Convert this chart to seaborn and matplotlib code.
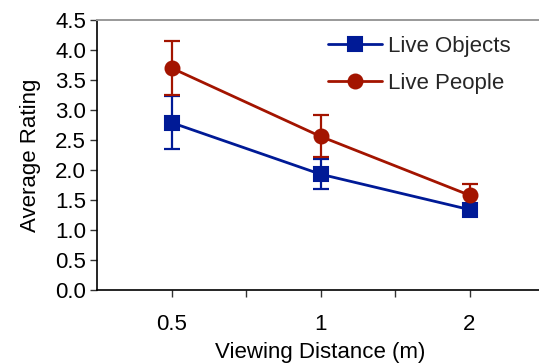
import pandas as pd
import matplotlib.pyplot as plt
import seaborn as sns

# Data
distances = ["0.5", "1", "2"]
objects_mean = [2.79, 1.93, 1.34]
objects_err = [0.44, 0.25, 0.10]
people_mean = [3.70, 2.56, 1.58]
people_err = [0.45, 0.35, 0.18]

blue = "#001a96"
red = "#a31400"

sns.set_theme(style="white")
plt.rcParams['font.family'] = ['Liberation Sans', 'DejaVu Sans']

df = pd.DataFrame({
    "distance": distances * 2,
    "rating": objects_mean + people_mean,
    "condition": ["Live Objects"] * 3 + ["Live People"] * 3,
})

fig = plt.figure(figsize=(5.39, 3.63), dpi=100)
ax = fig.add_axes([97 / 539, 73 / 363, 447 / 539, 270 / 363])

# error bars first so the markers sit on top
ax.errorbar(range(len(distances)), objects_mean, yerr=objects_err, fmt='none',
            ecolor=blue, elinewidth=1.6, capsize=6, capthick=1.6, zorder=2)
ax.errorbar(range(len(distances)), people_mean, yerr=people_err, fmt='none',
            ecolor=red, elinewidth=1.6, capsize=6, capthick=1.6, zorder=2)

sns.pointplot(data=df[df.condition == "Live Objects"], x="distance", y="rating",
              color=blue, markers="s", linestyles="-", errorbar=None,
              markersize=10.5, linewidth=2, ax=ax, label="Live Objects")
sns.pointplot(data=df[df.condition == "Live People"], x="distance", y="rating",
              color=red, markers="o", linestyles="-", errorbar=None,
              markersize=13, linewidth=2, ax=ax, label="Live People")

ax.set_xlim(-0.5, 2.5)
ax.set_ylim(0, 4.5)
ax.set_yticks([i * 0.5 for i in range(10)])
ax.set_yticklabels([f"{i * 0.5:.1f}" for i in range(10)])
ax.set_xticks([0.5, 1.5], minor=True)
ax.set_xticks(range(len(distances)))
ax.set_xticklabels(distances)

ax.tick_params(axis='both', which='both', direction='out', length=5, width=1,
               color='#333333', labelsize=16, labelcolor='black', left=True, bottom=True)
ax.tick_params(axis='x', which='major', pad=12)
ax.tick_params(axis='y', pad=3)

ax.set_xlabel("Viewing Distance (m)", fontsize=16, color='black', labelpad=5)
ax.set_ylabel("Average Rating", fontsize=16, color='black', labelpad=10)

for side in ["left", "bottom"]:
    ax.spines[side].set_color("black")
    ax.spines[side].set_linewidth(1.2)
ax.spines["top"].set_color("#999999")
ax.spines["top"].set_linewidth(1.4)
ax.spines["right"].set_visible(False)
ax.grid(False)

handles, labels = ax.get_legend_handles_labels()
for h in handles:
    h.set_markersize(10)
leg = ax.legend(handles, labels, loc='upper left', bbox_to_anchor=(0.473, 1.015),
                frameon=False, fontsize=16, handlelength=2.4, handletextpad=0.3,
                labelspacing=0.7)

fig.savefig("out.png", dpi=100)
